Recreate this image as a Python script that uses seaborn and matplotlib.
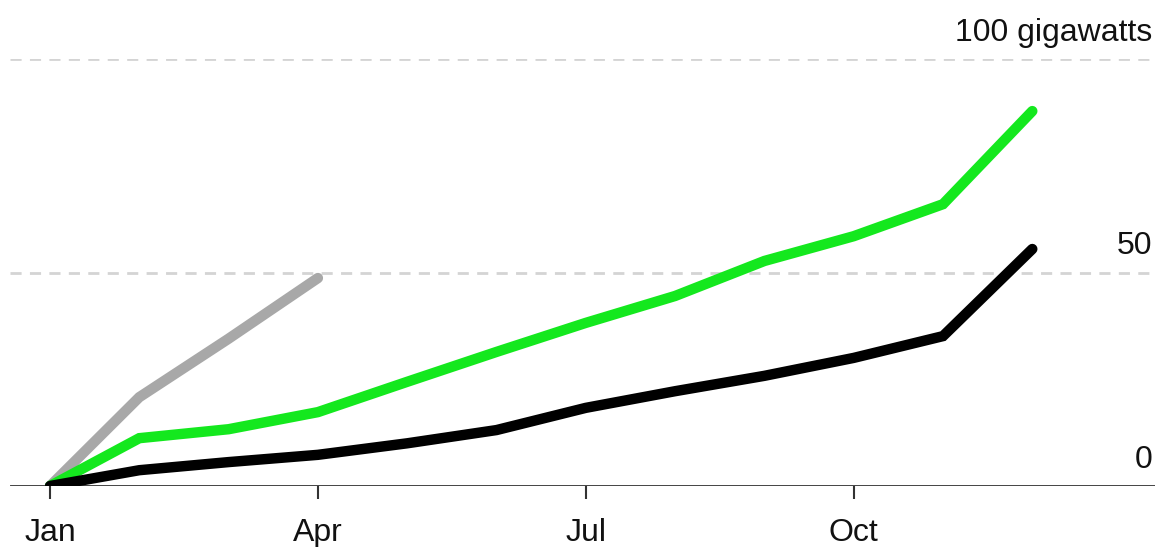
import pandas as pd
import matplotlib.pyplot as plt
import seaborn as sns

months = list(range(12))
black = [0, 3.7, 5.6, 7.3, 10, 13.1, 18.3, 22.2, 25.8, 30, 35.1, 55.5]
green = [0, 11.2, 13.3, 17.3, 24.4, 31.4, 38.2, 44.5, 52.7, 58.5, 66, 87.8]
gray_months = [0, 1, 2, 3]
gray = [0, 20.8, 34.5, 48.7]

tick_pos = [0, 3, 6, 9]
tick_labels = ["Jan", "Apr", "Jul", "Oct"]
y_ticks = [0, 50, 100]
y_labels = ["0", "50", "100 gigawatts"]

df = pd.concat([
    pd.DataFrame({"month": gray_months, "gw": gray, "series": "gray"}),
    pd.DataFrame({"month": months, "gw": green, "series": "green"}),
    pd.DataFrame({"month": months, "gw": black, "series": "black"}),
])

sns.set_style("white")
plt.rcParams["font.family"] = ["Liberation Sans", "DejaVu Sans"]

fig = plt.figure(figsize=(11.58, 5.47), dpi=100)
ax = fig.add_axes([10 / 1158, 61 / 547, 1145 / 1158, 427 / 547])

palette = {"gray": "#a8a8a8", "green": "#14e81e", "black": "#000000"}
sns.lineplot(data=df, x="month", y="gw", hue="series", palette=palette,
             estimator=None, linewidth=7.5, legend=False, ax=ax,
             solid_capstyle="round", solid_joinstyle="miter")

ax.set_xlim((10 - 50) / 89.3, (1155 - 50) / 89.3)
ax.set_ylim(0, 100)

for y in y_ticks[1:]:
    ax.axhline(y, color="#d4d4d4", lw=2, ls=(0, (4, 3)), zorder=0)
ax.axhline(0, color="#333333", lw=2, zorder=1)

for y, lab in zip(y_ticks, y_labels):
    ax.text(0.998, y + 2.6, lab, transform=ax.get_yaxis_transform(),
            ha="right", va="bottom", fontsize=23, color="#111111")

ax.set_xticks(tick_pos)
ax.set_xticklabels(tick_labels, fontsize=23, color="#111111")
ax.tick_params(axis="x", bottom=True, direction="out", length=9, width=1.5,
               color="#333333", pad=14)
ax.set_yticks([])
ax.set_xlabel("")
ax.set_ylabel("")
for s in ax.spines.values():
    s.set_visible(False)

fig.savefig("out.png", dpi=100)
